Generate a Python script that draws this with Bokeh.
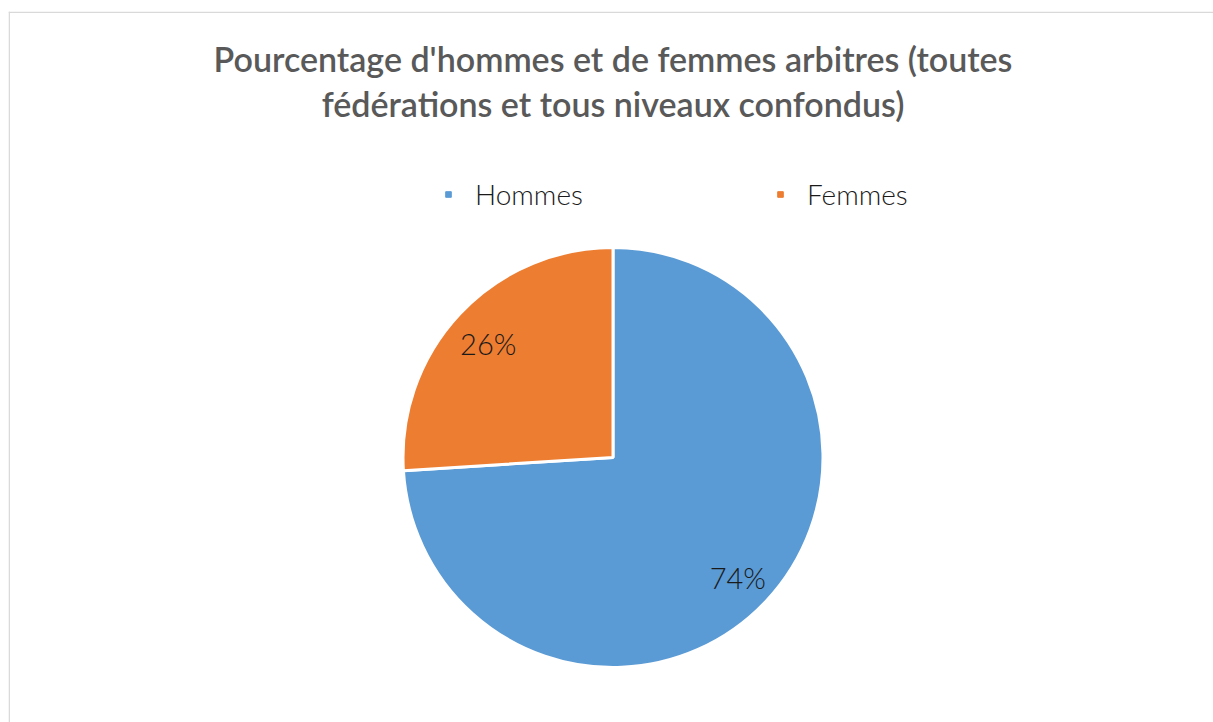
import math
from bokeh.plotting import figure
from bokeh.models import Range1d, ColumnDataSource, Legend, LegendItem, Span
from bokeh.core.properties import value
from bokeh.embed import file_html
from bokeh.resources import INLINE

categories = ["Hommes", "Femmes"]
values = [74, 26]
colors = ["#5B9BD5", "#ED7D31"]
title_lines = ["Pourcentage d'hommes et de femmes arbitres (toutes",
               "fédérations et tous niveaux confondus)"]

R = 210
total = sum(values)
starts, ends, lx, ly, labels = [], [], [], [], []
cum = 0.0
for v in values:
    a0 = math.pi / 2 - 2 * math.pi * cum / total
    a1 = math.pi / 2 - 2 * math.pi * (cum + v) / total
    starts.append(a0)
    ends.append(a1)
    mid = (a0 + a1) / 2
    lx.append(0.815 * R * math.cos(mid))
    ly.append(0.815 * R * math.sin(mid) - 3)
    labels.append(f"{round(100 * v / total)}%")
    cum += v

src = ColumnDataSource(dict(cat=categories, val=values, start=starts, end=ends,
                            color=colors, lx=lx, ly=ly, label=labels))

W, H = 1213, 722
p = figure(width=W, height=H, output_backend="svg", toolbar_location=None,
           x_range=Range1d(-604.5, 600.5), y_range=Range1d(-265, 446),
           min_border_left=8, min_border_right=0, min_border_top=11, min_border_bottom=0)
p.axis.visible = False
p.grid.visible = False
p.outline_line_color = None
p.background_fill_color = "white"
p.border_fill_color = "white"

# chart-area border (only left and top edges are inside the window)
p.add_layout(Span(location=-603.8, dimension="height", line_color="#D9D9D9", line_width=1.5))
p.add_layout(Span(location=445.3, dimension="width", line_color="#D9D9D9", line_width=1.5))

p.wedge(x=0, y=0, radius=R, start_angle="start", end_angle="end", direction="clock",
        fill_color="color", line_color="white", line_width=3, source=src)

p.text(x="lx", y="ly", text="label", source=src, text_align="center",
       text_baseline="middle", text_font_size="29px", text_color="#1a1a1a",
       text_font=value("Lato Light"))

# title (two lines, centred above the pie)
tsrc = ColumnDataSource(dict(t=title_lines, x=[0, 0], y=[399, 354]))
p.text(x="x", y="y", text="t", source=tsrc, text_align="center", text_baseline="middle",
       text_font=value("Lato Semibold"), text_font_style="normal", text_font_size="34px",
       text_color="#595959")

# legend
items = []
for c, col in zip(categories, colors):
    r = p.scatter(x=[math.nan], y=[math.nan], marker="square", size=10,
                  fill_color=col, line_color=col)
    items.append(LegendItem(label=c, renderers=[r]))
leg = Legend(items=items, orientation="horizontal", location=(433, 511),
             label_text_font="Lato Light", label_text_font_size="28px",
             label_text_color="#1a1a1a",
             border_line_color=None, background_fill_alpha=0, spacing=190,
             glyph_width=14, glyph_height=14, label_standoff=20)
p.add_layout(leg)

open("out.html", "w").write(file_html(p, INLINE))
